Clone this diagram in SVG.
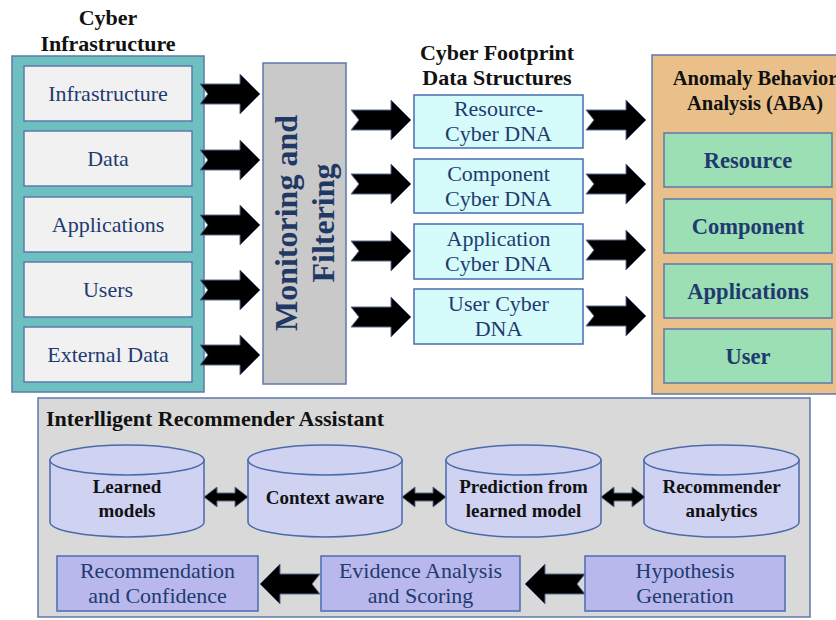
<svg xmlns="http://www.w3.org/2000/svg" xmlns:xlink="http://www.w3.org/1999/xlink" width="836" height="620" viewBox="0 0 836 620">
<style>
text{font-family:"Liberation Serif","Times New Roman",serif;}
.title{font-size:22px;font-weight:bold;fill:#111;text-anchor:middle;}
.gbox{fill:#f1f1f1;stroke:#5d78ad;stroke-width:1.5;}
.ltxt{font-size:22px;fill:#1f3a70;text-anchor:middle;}
.dna{fill:#d5fbfb;stroke:#4a6cb0;stroke-width:1.5;}
.grn{fill:#9ddfb4;stroke:#5d78ad;stroke-width:1.5;}
.gtxt{font-size:22.5px;font-weight:bold;fill:#1f3a70;text-anchor:middle;}
.cyl{fill:#d0d2f2;stroke:#4a6aab;stroke-width:1.5;}
.ctxt{font-size:19px;font-weight:bold;fill:#111;text-anchor:middle;}
.pbox{fill:#b9b8ec;stroke:#4a6cb0;stroke-width:1.5;}
.ptxt{font-size:22px;fill:#1f3a70;text-anchor:middle;}
.arr{fill:#000;stroke:#5a6a90;stroke-width:1;}
</style>
<defs>
<path id="ar" d="M0,-10 L40,-10 L40,-20 L60,0 L40,20 L40,10 L0,10 L8,0 Z"/>
<path id="dar" d="M0,0 L13,-10 L13,-4 L31,-4 L31,-10 L44,0 L31,10 L31,4 L13,4 L13,10 Z"/>
</defs>

<g id="cyber-infrastructure">
<text class="title" x="108" y="25">Cyber</text>
<text class="title" x="108" y="51">Infrastructure</text>
<rect x="12" y="56" width="192" height="336" fill="#6cc0bf" stroke="#5d78ad" stroke-width="1.5"/>
</g>
<g id="n-infrastructure"><rect class="gbox" x="24" y="66" width="168" height="55"/><text class="ltxt" x="108" y="101">Infrastructure</text></g>
<g id="n-data"><rect class="gbox" x="24" y="131" width="168" height="55"/><text class="ltxt" x="108" y="166">Data</text></g>
<g id="n-applications"><rect class="gbox" x="24" y="197" width="168" height="55"/><text class="ltxt" x="108" y="232">Applications</text></g>
<g id="n-users"><rect class="gbox" x="24" y="262" width="168" height="55"/><text class="ltxt" x="108" y="297">Users</text></g>
<g id="n-external"><rect class="gbox" x="24" y="327" width="168" height="55"/><text class="ltxt" x="108" y="362">External Data</text></g>

<g id="monitoring">
<rect x="263" y="63" width="83" height="321" fill="#c9c9c9" stroke="#5d78ad" stroke-width="1.5"/>
<text transform="translate(297,223) rotate(-90)" font-size="32" font-weight="bold" fill="#1f3864" text-anchor="middle">Monitoring and</text>
<text transform="translate(334,223) rotate(-90)" font-size="32" font-weight="bold" fill="#1f3864" text-anchor="middle">Filtering</text>
</g>

<g id="footprint-title">
<text class="title" x="497" y="60">Cyber Footprint</text>
<text class="title" x="497" y="85">Data Structures</text>
</g>
<g id="n-resource-dna"><rect class="dna" x="414" y="95" width="169" height="53"/><text class="ltxt" x="498.5" y="116">Resource-</text><text class="ltxt" x="498.5" y="141">Cyber DNA</text></g>
<g id="n-component-dna"><rect class="dna" x="414" y="159" width="169" height="54"/><text class="ltxt" x="498.5" y="181">Component</text><text class="ltxt" x="498.5" y="206">Cyber DNA</text></g>
<g id="n-application-dna"><rect class="dna" x="414" y="224" width="169" height="55"/><text class="ltxt" x="498.5" y="246">Application</text><text class="ltxt" x="498.5" y="271">Cyber DNA</text></g>
<g id="n-user-dna"><rect class="dna" x="414" y="289" width="169" height="55"/><text class="ltxt" x="498.5" y="311">User Cyber</text><text class="ltxt" x="498.5" y="336">DNA</text></g>

<g id="aba">
<rect x="652" y="55" width="200" height="339" fill="#e9c08a" stroke="#5d78ad" stroke-width="1.5"/>
<text x="755" y="85" font-size="20.5" font-weight="bold" fill="#111" text-anchor="middle">Anomaly Behavior</text>
<text x="755" y="110" font-size="20.5" font-weight="bold" fill="#111" text-anchor="middle">Analysis (ABA)</text>
</g>
<g id="n-aba-resource"><rect class="grn" x="664" y="133" width="168" height="54"/><text class="gtxt" x="748" y="168">Resource</text></g>
<g id="n-aba-component"><rect class="grn" x="664" y="199" width="168" height="54"/><text class="gtxt" x="748" y="234">Component</text></g>
<g id="n-aba-applications"><rect class="grn" x="664" y="264" width="168" height="54"/><text class="gtxt" x="748" y="299">Applications</text></g>
<g id="n-aba-user"><rect class="grn" x="664" y="329" width="168" height="54"/><text class="gtxt" x="748" y="364">User</text></g>

<g id="assistant">
<rect x="38" y="398" width="772" height="219" fill="#d9d9d9" stroke="#5d78ad" stroke-width="1.5"/>
<text x="46" y="426" font-size="22" font-weight="bold" fill="#111">Interlligent Recommender Assistant</text>
</g>
<g id="n-learned">
<path class="cyl" d="M50,460 L50,522 A77,15 0 0 0 204,522 L204,460 Z"/>
<ellipse class="cyl" cx="127" cy="460" rx="77" ry="15"/>
<text class="ctxt" x="127" y="493">Learned</text><text class="ctxt" x="127" y="517">models</text>
</g>
<g id="n-context">
<path class="cyl" d="M248,460 L248,522 A77,15 0 0 0 402,522 L402,460 Z"/>
<ellipse class="cyl" cx="325" cy="460" rx="77" ry="15"/>
<text class="ctxt" x="325" y="504">Context aware</text>
</g>
<g id="n-prediction">
<path class="cyl" d="M446,460 L446,522 A77,15 0 0 0 601,522 L601,460 Z"/>
<ellipse class="cyl" cx="523.5" cy="460" rx="77.5" ry="15"/>
<text class="ctxt" x="523.5" y="493">Prediction from</text><text class="ctxt" x="523.5" y="517">learned model</text>
</g>
<g id="n-recommender">
<path class="cyl" d="M644,460 L644,522 A77,15 0 0 0 799,522 L799,460 Z"/>
<ellipse class="cyl" cx="721.5" cy="460" rx="77.5" ry="15"/>
<text class="ctxt" x="721.5" y="493">Recommender</text><text class="ctxt" x="721.5" y="517">analytics</text>
</g>
<g id="n-recommendation"><rect class="pbox" x="57" y="556" width="201" height="55"/><text class="ptxt" x="157.5" y="578">Recommendation</text><text class="ptxt" x="157.5" y="603">and Confidence</text></g>
<g id="n-evidence"><rect class="pbox" x="321" y="556" width="199" height="55"/><text class="ptxt" x="420.5" y="578">Evidence Analysis</text><text class="ptxt" x="420.5" y="603">and Scoring</text></g>
<g id="n-hypothesis"><rect class="pbox" x="585" y="556" width="200" height="55"/><text class="ptxt" x="685" y="578">Hypothesis</text><text class="ptxt" x="685" y="603">Generation</text></g>

<g id="connectors">
<use href="#ar" class="arr" x="200" y="94"/>
<use href="#ar" class="arr" x="200" y="160"/>
<use href="#ar" class="arr" x="200" y="225"/>
<use href="#ar" class="arr" x="200" y="290"/>
<use href="#ar" class="arr" x="200" y="355"/>
<use href="#ar" class="arr" x="351" y="120"/>
<use href="#ar" class="arr" x="351" y="184"/>
<use href="#ar" class="arr" x="351" y="251"/>
<use href="#ar" class="arr" x="351" y="317"/>
<use href="#ar" class="arr" x="586" y="120"/>
<use href="#ar" class="arr" x="586" y="184"/>
<use href="#ar" class="arr" x="586" y="250"/>
<use href="#ar" class="arr" x="586" y="316"/>
<use href="#dar" class="arr" x="204" y="497"/>
<use href="#dar" class="arr" x="402" y="497"/>
<use href="#dar" class="arr" x="601" y="497"/>
<use href="#ar" class="arr" transform="translate(320,584) scale(-1,1)"/>
<use href="#ar" class="arr" transform="translate(585,584) scale(-1,1)"/>
</g>
</svg>
